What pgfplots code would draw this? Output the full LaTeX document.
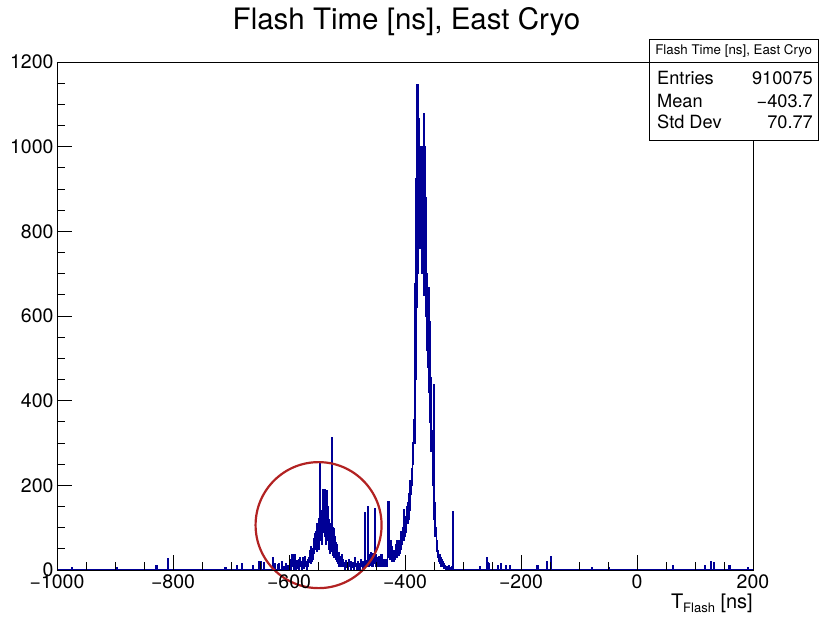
\documentclass[border=0pt]{standalone}
\usepackage{fontspec}
\setmainfont{TeX Gyre Heros}
\usepackage{pgfplots}
\pgfplotsset{compat=1.18}
\definecolor{histblue}{RGB}{0,0,150}
\definecolor{circred}{RGB}{178,34,34}
\begin{document}
\begin{tikzpicture}[x=1pt,y=1pt]
\path[use as bounding box] (0,0) rectangle (819,616);
\begin{axis}[
  at={(57pt,46pt)}, anchor=south west,
  scale only axis, width=696pt, height=508pt,
  xmin=-1000, xmax=200, ymin=0, ymax=1200,
  xtick={-1000,-800,-600,-400,-200,0,200},
  xticklabels={−1000,−800,−600,−400,−200,0,200},
  ytick={0,200,400,600,800,1000,1200},
  yticklabels={0,200,400,600,800,1000,1200},
  minor x tick num=3, minor y tick num=3,
  tick align=inside, xtick pos=bottom, ytick pos=left,
  major tick length=15pt, minor tick length=7.5pt,
  every tick/.style={black, line width=0.8pt},
  axis line style={line width=0.8pt},
  axis on top,
  ticklabel style={font=\fontsize{19.5}{20}\selectfont},
  xticklabel style={yshift=-1pt},
  clip=false,
  xlabel={T\raisebox{-0.35ex}{\fontsize{13}{13}\selectfont Flash} [ns]},
  xlabel style={at={(axis description cs:1,0)}, anchor=north east, yshift=-24pt, font=\fontsize{20}{20}\selectfont, inner sep=0pt},
]
\addplot[const plot mark left, color=histblue, line width=1.5pt, mark=none] table {
x y
-1000 0
-974 6
-973 0
-897 6
-896 0
-829 10
-828 0
-809 26
-808 0
-710 6
-709 0
-690 10
-689 0
-681 15
-680 0
-662 10
-661 0
-652 20
-651 12
-650 0
-648 20
-647 0
-644 16
-643 0
-628 28
-627 0
-624 14
-623 0
-620 12
-619 0
-617 14
-616 0
-612 20
-611 0
-610 8
-609 0
-606 15
-605 0
-603 10
-602 0
-598 25
-597 0
-596 12
-595 35
-594 8
-593 30
-592 0
-591 35
-590 10
-589 18
-588 0
-587 22
-586 12
-585 5
-584 25
-583 0
-582 15
-581 30
-580 8
-579 20
-578 0
-577 28
-576 12
-575 18
-574 5
-573 32
-572 10
-571 20
-570 15
-569 0
-568 25
-567 10
-566 30
-565 18
-564 45
-563 15
-562 55
-561 20
-560 50
-559 25
-558 75
-557 40
-556 85
-555 50
-554 90
-553 45
-552 110
-551 60
-550 100
-549 50
-548 120
-547 255
-546 70
-545 140
-544 60
-543 135
-542 90
-541 189
-540 100
-539 190
-538 80
-537 185
-536 60
-535 188
-534 70
-533 150
-532 50
-531 118
-530 40
-529 110
-528 60
-527 312
-526 45
-525 100
-524 35
-523 98
-522 30
-521 78
-520 25
-519 65
-518 20
-517 60
-516 15
-515 40
-514 10
-513 32
-512 16
-511 28
-510 8
-509 35
-508 12
-507 25
-506 8
-505 18
-504 0
-503 12
-502 22
-501 6
-500 15
-499 0
-498 10
-497 25
-496 8
-495 14
-494 0
-493 20
-492 10
-491 6
-490 18
-489 0
-488 12
-487 28
-486 8
-485 15
-484 0
-483 10
-482 20
-481 7
-480 14
-479 0
-478 9
-477 15
-476 24
-475 8
-474 18
-473 5
-472 20
-471 10
-470 135
-469 25
-468 8
-467 22
-466 8
-465 30
-464 150
-463 10
-462 35
-461 12
-460 28
-459 40
-458 10
-457 30
-456 8
-455 38
-454 15
-453 145
-452 30
-451 10
-450 35
-449 12
-448 28
-447 8
-446 32
-445 15
-444 8
-443 30
-442 10
-441 35
-440 12
-439 25
-438 8
-437 22
-436 10
-435 25
-434 8
-433 20
-432 24
-431 10
-430 50
-429 161
-428 30
-427 65
-426 25
-425 70
-424 30
-423 55
-422 20
-421 40
-420 45
-419 20
-418 38
-417 25
-416 60
-415 30
-414 70
-413 40
-412 55
-411 35
-410 70
-409 40
-408 90
-407 50
-406 75
-405 60
-404 100
-403 142
-402 70
-401 110
-400 80
-399 125
-398 90
-397 150
-396 110
-395 160
-394 120
-393 180
-392 140
-391 210
-390 180
-389 240
-388 200
-387 300
-386 250
-385 355
-384 300
-383 676
-382 450
-381 924
-380 620
-379 1146
-378 700
-377 900
-376 1065
-375 760
-374 960
-373 820
-372 1000
-371 700
-370 952
-369 760
-368 1077
-367 650
-366 1000
-365 600
-364 880
-363 520
-362 700
-361 480
-360 666
-359 420
-358 586
-357 350
-356 455
-355 280
-354 330
-353 200
-352 250
-351 437
-350 120
-349 158
-348 80
-347 100
-346 45
-345 70
-344 30
-343 45
-342 20
-341 35
-340 15
-339 30
-338 10
-337 25
-336 8
-335 20
-334 5
-333 15
-332 3
-331 10
-330 0
-328 8
-327 4
-326 0
-325 10
-324 6
-323 0
-322 6
-321 0
-320 8
-319 0
-317 137
-316 0
-271 8
-270 0
-259 28
-258 16
-257 0
-255 15
-254 0
-240 10
-239 0
-235 15
-234 0
-227 10
-226 0
-220 10
-219 0
-172 10
-171 0
-155 19
-154 0
-148 31
-147 0
-78 6
-77 0
-48 6
-47 0
61 10
62 0
117 10
118 0
127 20
128 0
133 16
134 0
159 10
160 0
191 6
192 0
200 0
};
\draw[circred, line width=2.2pt] (axis cs:-549,106) circle[radius=63pt];
\end{axis}
\node[font=\fontsize{29.5}{30}\selectfont, anchor=base, inner sep=0pt] at (406.5,586) {Flash Time [ns], East Cryo};
\draw[fill=white, line width=0.8pt] (649,476) rectangle (818.5,577);
\draw[line width=0.8pt] (649,553.5) -- (818.5,553.5);
\node[font=\fontsize{13.3}{14}\selectfont, anchor=center] at (733.7,565) {Flash Time [ns], East Cryo};
\node[font=\fontsize{18.2}{19}\selectfont, anchor=base west, inner sep=0pt] at (657,531) {Entries};
\node[font=\fontsize{18.2}{19}\selectfont, anchor=base east, inner sep=0pt] at (813,531) {910075};
\node[font=\fontsize{18.2}{19}\selectfont, anchor=base west, inner sep=0pt] at (657,508) {Mean};
\node[font=\fontsize{18.2}{19}\selectfont, anchor=base east, inner sep=0pt] at (813,508) {−403.7};
\node[font=\fontsize{18.2}{19}\selectfont, anchor=base west, inner sep=0pt] at (657,487) {Std Dev};
\node[font=\fontsize{18.2}{19}\selectfont, anchor=base east, inner sep=0pt] at (813,487) {70.77};
\end{tikzpicture}
\end{document}
